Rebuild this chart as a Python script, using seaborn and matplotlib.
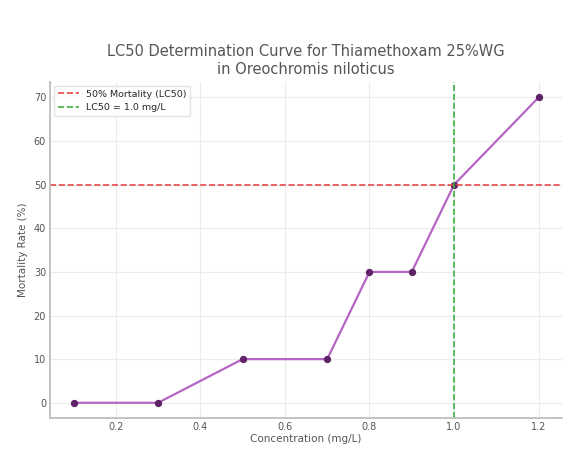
import pandas as pd
import matplotlib
matplotlib.use('Agg')
import matplotlib.pyplot as plt
import seaborn as sns

# Dados
concentration = [0.1, 0.3, 0.5, 0.7, 0.8, 0.9, 1.0, 1.2]
mortality = [0, 0, 10, 10, 30, 30, 50, 70]
lc50_value = 1.0
mortality_50 = 50

df = pd.DataFrame({'Concentration': concentration, 'Mortality': mortality})

sns.set_theme(style="whitegrid")
plt.rcParams['font.family'] = ['DejaVu Sans']

fig = plt.figure(figsize=(5.71, 4.49), dpi=100)
ax = fig.add_axes([0.088, 0.069, 0.896, 0.748])

sns.lineplot(data=df, x='Concentration', y='Mortality', ax=ax,
             color='#b565c4', linewidth=1.6, marker='o', markersize=4.5,
             markerfacecolor='#5e2266', markeredgecolor='#5e2266')
ax.axhline(mortality_50, color='#e8484a', linestyle='--', linewidth=1.2,
           label='50% Mortality (LC50)')
ax.axvline(lc50_value, color='#3fae3f', linestyle='--', linewidth=1.2,
           label=f'LC50 = {lc50_value} mg/L')

ax.set_xticks([0.2, 0.4, 0.6, 0.8, 1.0, 1.2])
ax.set_yticks([0, 10, 20, 30, 40, 50, 60, 70])
ax.tick_params(axis='both', labelsize=7, colors='#555555', length=0, pad=3)
ax.grid(True, color='#ececec', linewidth=0.8)
for side in ['top', 'right']:
    ax.spines[side].set_visible(False)
for side in ['left', 'bottom']:
    ax.spines[side].set_color('#bbbbbb')

ax.set_xlabel('Concentration (mg/L)', fontsize=7.5, color='#555555', labelpad=1)
ax.set_ylabel('Mortality Rate (%)', fontsize=7.5, color='#555555', labelpad=4)
ax.set_title('LC50 Determination Curve for Thiamethoxam 25%WG\nin Oreochromis niloticus',
             fontsize=10.5, color='#555555', pad=6)
ax.legend(loc='upper left', bbox_to_anchor=(0, 1), borderaxespad=0.4,
          fontsize=6.8, frameon=True, edgecolor='#dddddd', handlelength=2.2)

fig.savefig('out.png', dpi=100)
